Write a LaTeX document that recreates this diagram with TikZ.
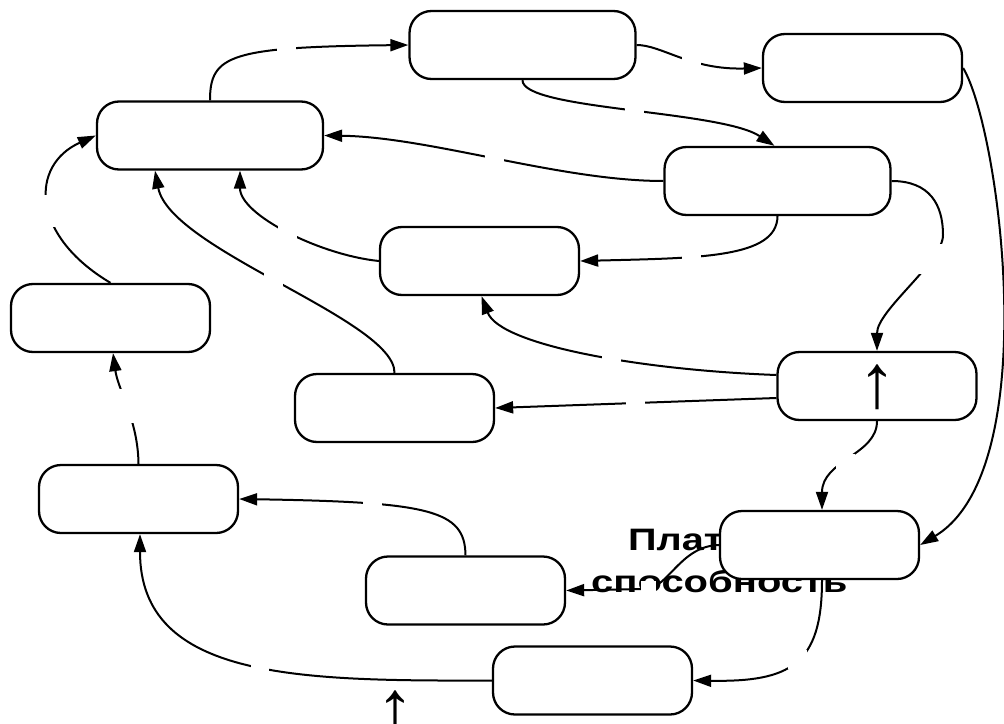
\documentclass[tikz,border=0pt]{standalone}
\usepackage{fontspec}
\setmainfont{Liberation Sans}
\usetikzlibrary{arrows.meta}
\begin{document}
\begin{tikzpicture}[
    x=1pt, y=-1pt,
    box/.style={draw, fill=white, line width=2.3pt, rounded corners=22pt,
                minimum width=199pt, minimum height=68pt, inner sep=0pt},
    wide/.style={box, minimum width=226pt},
    link/.style={-{Triangle[length=18pt,width=12pt]}, line width=2pt},
    gap/.style={fill=white, inner sep=0pt, minimum size=#1},
    gap/.default=19pt,
    uparrow/.style={font=\fontsize{76}{76}\selectfont, inner sep=0pt, anchor=north},
    solv/.style={font=\bfseries\fontsize{31}{31}\selectfont, inner sep=0pt, anchor=base west},
  ]
    \useasboundingbox (0,0) rectangle (1004,723);

    \node[solv] (solvtop) at (628,550) {\scalebox{1.28}[1]{Плат}};
    \node[solv] (solvbot) at (591,592) {\scalebox{1.29}[1]{способность}};

    \node[wide] (b1) at (210,135.5) {};
    \node[wide] (b2) at (522.5,45) {};
    \node[box] (b3) at (862.5,68) {};
    \node[wide] (b4) at (777.5,181) {};
    \node[box] (b5) at (479.5,261) {};
    \node[box] (b6) at (110.5,318) {};
    \node[box] (b7) at (394.5,408) {};
    \node[box] (b8) at (877,386) {};
    \node[box] (b9) at (138.5,499) {};
    \node[box] (b10) at (819.5,545) {};
    \node[box] (b11) at (465.5,590.5) {};
    \node[box] (b12) at (592.5,680.5) {};

    \node[uparrow] (up1) at (877,365) {↑};
    \node[uparrow] (up2) at (395,691) {↑};

    \draw[link] (b1.north) .. controls (210,55) and (230,47) .. (b2.west) node[gap,pos=0.7] (g1) {};
    \draw[link] (b2.east) .. controls (662,45) and (690,70) .. (b3.west) node[gap,pos=0.58] (g2) {};
    \draw[link] (b2.south) .. controls (522,110) and (720,110) .. ([xshift=-3pt]b4.north) node[gap,pos=0.52] (g3) {};
    \draw[link] (b4.west) .. controls (560,181) and (430,137) .. (b1.east) node[gap,pos=0.5] (g4) {};
    \draw[link] (b4.south) .. controls (777,258) and (700,258) .. (b5.east) node[gap,pos=0.64] (g5) {};
    \draw[link] (b4.east) .. controls (930,181) and (943,205) .. (943,235)
                .. controls (943,262) and (877,310) .. (b8.north) node[gap=30pt,pos=0.25] (g6) {};
    \draw[link] (b3.east) .. controls (1000,130) and (1045,470) .. (b10.east);
    \draw[link] (b5.west) .. controls (320,255) and (240,215) .. ([xshift=30pt]b1.south) node[gap,pos=0.5] (g8) {};
    \draw[link] (b7.north) .. controls (395,320) and (170,250) .. ([xshift=-55pt]b1.south) node[gap,pos=0.52] (g9) {};
    \draw[link] (b6.north) .. controls (30,235) and (30,165) .. (b1.west) node[gap=32pt,pos=0.45] (g10) {};
    \draw[link] ([yshift=11pt]b8.west) .. controls (640,370) and (500,345) .. ([xshift=2pt]b5.south) node[gap,pos=0.42] (g11) {};
    \draw[link] ([yshift=-12pt]b8.west) -- (b7.east) node[gap,pos=0.5] (g12) {};
    \draw[link] (b8.south) .. controls (877,455) and (822,460) .. ([xshift=2.5pt]b10.north) node[gap,pos=0.55] (g13) {};
    \draw[link] (b10.west) .. controls (680,546) and (668,589) .. (645,589) node[gap=15pt,pos=0.95] (g14) {} -- (b11.east);
    \draw[link] ([xshift=2.5pt]b10.south) .. controls (822,665) and (790,682) .. (b12.east) node[gap,pos=0.47] (g15) {};
    \draw[link] (b11.north) .. controls (465,510) and (430,502) .. (b9.east) node[gap,pos=0.7] (g16) {};
    \draw[link] (b9.north) .. controls (138,420) and (118,390) .. ([xshift=2.5pt]b6.south) node[gap=34pt,pos=0.5] (g17) {};
    \draw[link] (b12.west) .. controls (300,681) and (140,680) .. ([xshift=1.5pt]b9.south) node[gap=18pt,pos=0.46] (g18) {};
\end{tikzpicture}
\end{document}
